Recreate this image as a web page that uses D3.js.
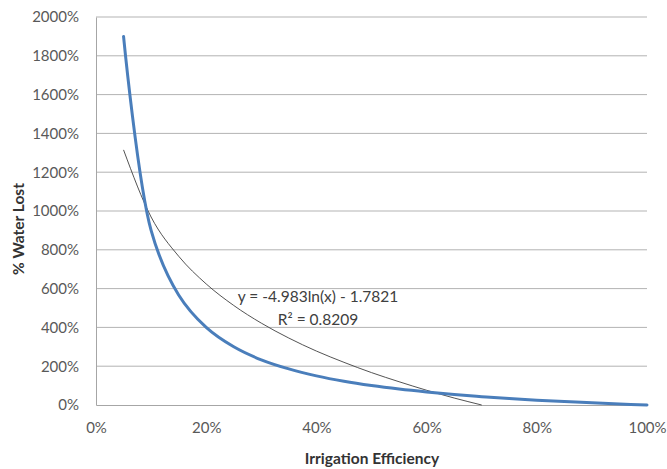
<!DOCTYPE html>
<html>
<head>
<meta charset="utf-8">
<script src="https://cdn.jsdelivr.net/npm/d3@7"></script>
<style>
  body { margin: 0; background: #fff; }
  svg text { font-family: Lato, "Open Sans", sans-serif; fill: #595959; }
</style>
</head>
<body>
<div class="chart"></div>
<script>
// Irrigation efficiency (fraction) and % water lost
var efficiency = [0.05, 0.10, 0.15, 0.20, 0.25, 0.30, 0.35, 0.40, 0.45, 0.50,
                  0.55, 0.60, 0.65, 0.70, 0.75, 0.80, 0.85, 0.90, 0.95, 1.00];
var waterLost = [19.0, 9.0, 5.67, 4.0, 3.0, 2.33, 1.86, 1.5, 1.22, 1.0,
                 0.82, 0.67, 0.54, 0.43, 0.33, 0.25, 0.18, 0.11, 0.05, 0.0];

// Log trend line samples
var trendX = [0.05, 0.10, 0.15, 0.20, 0.25, 0.30, 0.35, 0.40, 0.45, 0.50, 0.55, 0.60, 0.65, 0.70];
var trendY = [13.15, 9.69, 7.67, 6.24, 5.13, 4.22, 3.45, 2.78, 2.20, 1.67, 1.20, 0.76, 0.36, 0.0];

var yTicks = [0, 2, 4, 6, 8, 10, 12, 14, 16, 18, 20];
var xTicks = [0, 0.2, 0.4, 0.6, 0.8, 1.0];
var trendLabel = ["y = -4.983ln(x) - 1.7821", "R² = 0.8209"];

var width = 667, height = 469;
var margin = {top: 17, right: 20, bottom: 64, left: 96};

var svg = d3.select(".chart").append("svg")
    .attr("width", width)
    .attr("height", height);

var x = d3.scaleLinear().domain([0, 1]).range([margin.left, width - margin.right]);
var y = d3.scaleLinear().domain([0, 20]).range([height - margin.bottom, margin.top]);
var pct = d3.format(".0%");

// Gridlines
svg.append("g")
    .selectAll("line")
    .data(yTicks.slice(1))
    .join("line")
    .attr("x1", x(0))
    .attr("x2", x(1))
    .attr("y1", function (d) { return y(d); })
    .attr("y2", function (d) { return y(d); })
    .style("stroke", "#b3b3b3")
    .style("stroke-width", 1);

// Y axis
var yAxis = svg.append("g")
    .attr("transform", "translate(" + x(0) + ",0)")
    .call(d3.axisLeft(y).tickValues(yTicks).tickFormat(pct).tickSize(0).tickPadding(17));
yAxis.select(".domain").style("stroke", "#a6a6a6");
yAxis.selectAll("text").style("font-size", "15px").style("fill", "#595959")
    .style("font-family", "Lato, sans-serif");

// X axis
var xAxis = svg.append("g")
    .attr("transform", "translate(0," + y(0) + ")")
    .call(d3.axisBottom(x).tickValues(xTicks).tickFormat(pct).tickSize(0).tickPadding(17));
xAxis.select(".domain").style("stroke", "#a6a6a6");
xAxis.selectAll("text").style("font-size", "15px").style("fill", "#595959")
    .style("font-family", "Lato, sans-serif");

// Axis titles
svg.append("text")
    .attr("transform", "translate(24,229) rotate(-90)")
    .attr("text-anchor", "middle")
    .style("font-size", "15.5px")
    .style("font-weight", "bold")
    .style("fill", "#333")
    .text("% Water Lost");

svg.append("text")
    .attr("x", 372)
    .attr("y", 464)
    .attr("text-anchor", "middle")
    .style("font-size", "15.5px")
    .style("font-weight", "bold")
    .style("fill", "#333")
    .text("Irrigation Efficiency");

// Trend line
var trend = trendX.map(function (d, i) { return [d, trendY[i]]; });
svg.append("path")
    .datum(trend)
    .attr("d", d3.line()
        .x(function (d) { return x(d[0]); })
        .y(function (d) { return y(d[1]); })
        .curve(d3.curveMonotoneX))
    .style("fill", "none")
    .style("stroke", "#404040")
    .style("stroke-width", 0.9);

// Main series (smoothed like the spreadsheet line)
var series = efficiency.map(function (d, i) { return [d, waterLost[i]]; });
svg.append("path")
    .datum(series)
    .attr("d", d3.line()
        .x(function (d) { return x(d[0]); })
        .y(function (d) { return y(d[1]); })
        .curve(d3.curveCatmullRom.alpha(0.5)))
    .style("fill", "none")
    .style("stroke", "#4a7ebb")
    .style("stroke-width", 3)
    .style("stroke-linecap", "round");

// Trend equation label
svg.append("g")
    .selectAll("text")
    .data(trendLabel)
    .join("text")
    .attr("x", 318)
    .attr("y", function (d, i) { return 302 + i * 23; })
    .attr("text-anchor", "middle")
    .style("font-size", "15.5px")
    .style("fill", "#404040")
    .text(function (d) { return d; });
</script>
</body>
</html>
